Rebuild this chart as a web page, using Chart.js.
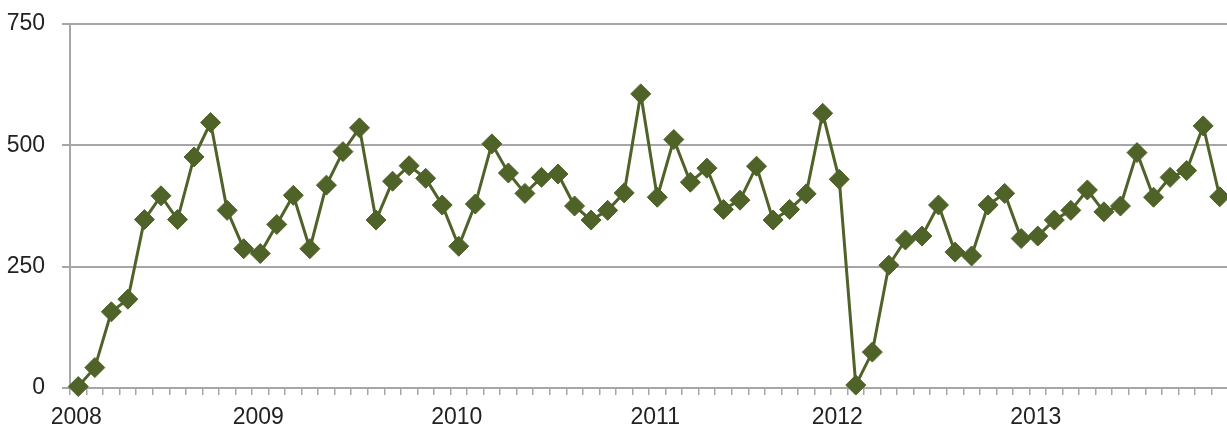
<!DOCTYPE html>
<html lang="en">
<head>
  <meta charset="UTF-8" />
  <title>Monthly values 2008-2013</title>
  <script src="https://cdn.jsdelivr.net/npm/chart.js"></script>
  <style>
    html, body {
      margin: 0;
      padding: 0;
      background: #fff;
      overflow: hidden;
    }
    .chart-wrap {
      position: relative;
      width: 1239px;
      height: 428px;
    }
  </style>
</head>
<body>
  <div class="chart-wrap">
    <canvas id="lineChart"></canvas>
  </div>

  <script>
    // one value per month, Jan 2008 onwards
    const values = [
      3, 42, 157, 183, 347, 396, 347, 476, 547, 366, 287, 277,
      337, 397, 287, 418, 487, 536, 346, 426, 458, 432, 377, 292,
      379, 503, 443, 401, 434, 441, 375, 346, 366, 402, 606, 393,
      512, 424, 453, 368, 387, 457, 346, 368, 400, 566, 430, 6,
      74, 253, 305, 313, 377, 280, 272, 377, 401, 308, 313, 346,
      366, 408, 363, 375, 485, 393, 434, 448, 540, 394
    ];
    // year labels and the category they sit under
    const years = ['2008', '2009', '2010', '2011', '2012', '2013'];
    const yearAt = [0, 11, 23, 35, 46, 58];
    const yTicks = [0, 250, 500, 750];

    const labels = values.map(() => '');
    yearAt.forEach((idx, i) => { labels[idx] = years[i]; });

    const gridGray = '#a6a6a6';
    const olive = '#4f6228';
    const tickFont = { family: "'Liberation Sans', Arial, sans-serif", size: 23 };

    new Chart(document.getElementById('lineChart'), {
      type: 'line',
      data: {
        labels: labels,
        datasets: [{
          data: values,
          borderColor: olive,
          borderWidth: 3,
          backgroundColor: olive,
          pointStyle: 'rectRot',
          pointRadius: 10,
          pointBorderWidth: 1,
          pointBorderColor: olive,
          pointBackgroundColor: olive,
          tension: 0,
          clip: false
        }]
      },
      options: {
        responsive: true,
        maintainAspectRatio: false,
        animation: false,
        layout: { padding: { top: 24, right: 0, bottom: 0, left: 0 } },
        plugins: {
          legend: { display: false },
          tooltip: { enabled: false }
        },
        scales: {
          x: {
            type: 'category',
            offset: true,
            border: { color: gridGray, width: 2 },
            grid: {
              offset: true,
              drawOnChartArea: false,
              drawTicks: true,
              tickLength: 7,
              color: gridGray,
              lineWidth: 1.5
            },
            ticks: {
              autoSkip: false,
              maxRotation: 0,
              padding: 9,
              labelOffset: -2,
              color: '#222',
              font: tickFont
            },
            afterFit: (scale) => { scale.height = 40; }
          },
          y: {
            min: 0,
            max: 750,
            border: { color: gridGray, width: 2 },
            grid: {
              color: gridGray,
              lineWidth: 2,
              drawTicks: true,
              tickLength: 8
            },
            afterBuildTicks: (scale) => {
              scale.ticks = yTicks.map(v => ({ value: v }));
            },
            ticks: {
              padding: 17,
              color: '#222',
              font: tickFont
            },
            afterFit: (scale) => {
              scale.width = 70;
              scale.paddingTop = 0;
              scale.paddingBottom = 0;
            }
          }
        }
      }
    });
  </script>
</body>
</html>
